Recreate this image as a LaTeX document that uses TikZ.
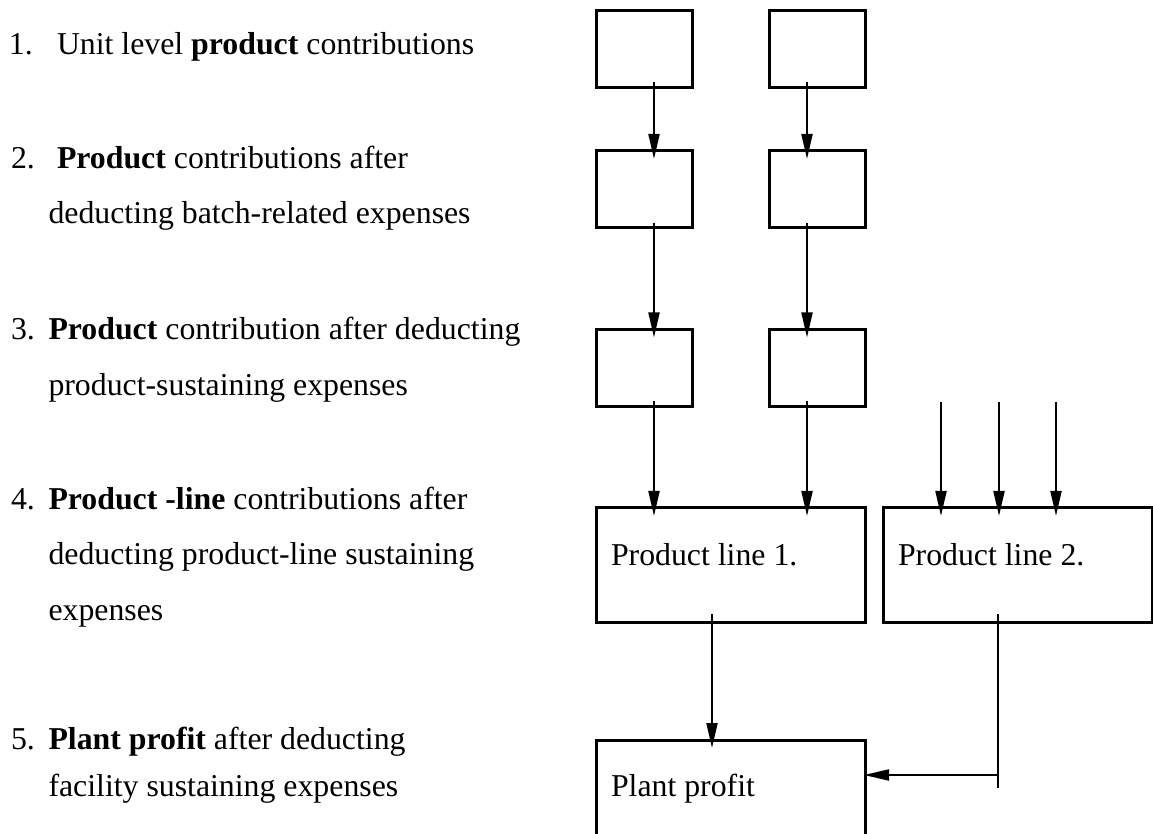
\documentclass[tikz,border=0pt]{standalone}
\usepackage{fontspec}
\setmainfont{Liberation Serif}
\usetikzlibrary{arrows.meta,calc}
\begin{document}
\begin{tikzpicture}[x=0.5pt,y=-0.5pt,
  box/.style={draw,line width=1.5pt,minimum width=48pt,minimum height=38.5pt,inner sep=0pt,outer sep=0pt},
  wide/.style={box,minimum width=134.5pt,minimum height=57.5pt},
  link/.style={line width=1pt,-{Triangle[length=12.5pt,width=5.5pt]},shorten >=-4pt,shorten <=-2.5pt},
  plain/.style={line width=1.2pt},
  txt/.style={anchor=base west,inner sep=0pt,outer sep=0pt,font=\fontsize{15.9pt}{19pt}\selectfont}]
% page frame
\clip (0,0) rectangle (1153,834);

% ---- left column: the five levels ----
\node[txt] (n1) at (9,55) {1.};
\node[txt] (t1) at (57,55) {Unit level \textbf{product} contributions};
\node[txt] (n2) at (11,168.3) {2.};
\node[txt] (t2a) at (57,168.3) {\textbf{Product} contributions after};
\node[txt] (t2b) at (48.5,223.3) {deducting batch-related expenses};
\node[txt] (n3) at (11,340) {3.};
\node[txt] (t3a) at (48.5,340) {\textbf{Product} contribution after deducting};
\node[txt] (t3b) at (48.5,395.5) {product-sustaining expenses};
\node[txt] (n4) at (11,510) {4.};
\node[txt] (t4a) at (48.5,510) {\textbf{Product -line} contributions after};
\node[txt] (t4b) at (48.5,565) {deducting product-line sustaining};
\node[txt] (t4c) at (48.5,620) {expenses};
\node[txt] (n5) at (11,749) {5.};
\node[txt] (t5a) at (48.5,749) {\textbf{Plant profit} after deducting};
\node[txt] (t5b) at (48.5,796) {facility sustaining expenses};

% ---- boxes ----
\node[box] (a1) at (644.5,49) {};
\node[box] (b1) at (817,49) {};
\node[box] (a2) at (644.5,189.5) {};
\node[box] (b2) at (817,189.5) {};
\node[box] (a3) at (644.5,368) {};
\node[box] (b3) at (817,368) {};
\node[wide] (pl1) at (730.5,565.5) {};
\node[wide] (pl2) at (1018,565.5) {};
\node[wide] (pp) at (730.5,797.5) {};

\node[txt] (pl1t) at (611,565.5) {Product line 1.};
\node[txt] (pl2t) at (898,565.5) {Product line 2.};
\node[txt] (ppt) at (611,796) {Plant profit};

% ---- connector columns and free ends ----
\coordinate (colA) at (654,0);
\coordinate (colB) at (807,0);
\coordinate (colC) at (712,0);
\coordinate (colD) at (998,0);
\coordinate (in1) at (941,402);
\coordinate (in2) at (999,402);
\coordinate (in3) at (1056,402);
\coordinate (tail) at (998,788);
\coordinate (junc) at (998,775);

% ---- connectors ----
\draw[link] (a1.south -| colA) -- (a2.north -| colA);
\draw[link] (a2.south -| colA) -- (a3.north -| colA);
\draw[link] (a3.south -| colA) -- (pl1.north -| colA);
\draw[link] (b1.south -| colB) -- (b2.north -| colB);
\draw[link] (b2.south -| colB) -- (b3.north -| colB);
\draw[link] (b3.south -| colB) -- (pl1.north -| colB);
\draw[link,shorten <=0pt] (in1) -- (in1 |- pl2.north);
\draw[link,shorten <=0pt] (in2) -- (in2 |- pl2.north);
\draw[link,shorten <=0pt] (in3) -- (in3 |- pl2.north);
\draw[link,shorten <=-4.5pt] (pl1.south -| colC) -- (pp.north -| colC);
\draw[plain,shorten <=-4.5pt] (pl2.south -| colD) -- (tail);
\draw[link,shorten <=0pt,shorten >=-0.5pt] (junc) -- (pp.east |- junc);
\end{tikzpicture}
\end{document}
